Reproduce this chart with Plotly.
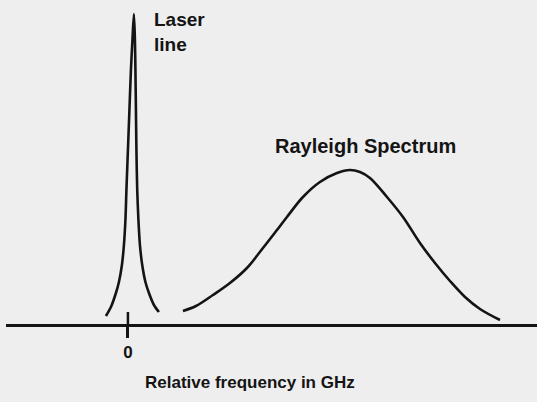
import plotly.graph_objects as go

# Laser line (relative frequency, arbitrary intensity units)
laser_freq = [-22, -17, -12, -9, -6, -4, -2.5, -1.5, 0, 1.5, 3, 4.5, 6,
              7, 7.5, 8, 8.5, 9.3, 10.5, 12, 14.3, 17.5, 21, 26, 31]
laser_int = [9, 18, 32, 43, 60, 80, 105, 135, 175, 215, 255, 285, 311,
             285, 255, 215, 175, 135, 105, 80, 60, 43, 32, 20, 13]

# Rayleigh spectrum
ray_freq = [55, 68, 85, 102, 119, 135, 149, 159, 175, 192, 209, 222,
            232, 242, 259, 275, 292, 307, 322, 337, 352, 372]
ray_int = [14, 19, 30, 42, 57, 77, 95, 108, 128, 143, 152, 155,
           153, 147, 128, 108, 82, 62, 44, 28, 16, 5]

tick_vals = [0]
tick_text = ["0"]

ink = "#141414"
bg = "#eeeeee"
font_family = "Liberation Sans, Arial, Helvetica, sans-serif"

fig = go.Figure()
fig.add_trace(go.Scatter(x=laser_freq, y=laser_int, mode="lines",
                         line=dict(color=ink, width=2.6, shape="spline", smoothing=0.8),
                         hoverinfo="skip", showlegend=False))
fig.add_trace(go.Scatter(x=ray_freq, y=ray_int, mode="lines",
                         line=dict(color=ink, width=2.6, shape="spline", smoothing=1.0),
                         hoverinfo="skip", showlegend=False))

# upper half of the zero tick (crosses the baseline)
fig.add_shape(type="line", xref="x", yref="y", x0=0, x1=0, y0=0, y1=13,
              line=dict(color=ink, width=2.5))

fig.add_annotation(x=24, y=318, xref="x", yref="y", text="<b>Laser<br>line</b>",
                   showarrow=False, xanchor="left", yanchor="top", align="left",
                   font=dict(family=font_family, size=19, color=ink))
fig.add_annotation(x=145, y=179, xref="x", yref="y", text="<b>Rayleigh Spectrum</b>",
                   showarrow=False, xanchor="left", yanchor="middle",
                   font=dict(family=font_family, size=20, color=ink))
fig.add_annotation(x=122, y=-57, xref="x", yref="y", text="<b>Relative frequency in GHz</b>",
                   showarrow=False, xanchor="center", yanchor="middle",
                   font=dict(family=font_family, size=17, color=ink))

fig.update_layout(
    width=537, height=402,
    margin=dict(l=0, r=0, t=0, b=0),
    paper_bgcolor=bg, plot_bgcolor=bg,
    xaxis=dict(domain=[0.011, 1], range=[-122, 409], anchor="free", position=0.1915,
               showgrid=False, zeroline=False, showline=True, linecolor=ink, linewidth=2.6,
               tickmode="array", tickvals=tick_vals, ticktext=tick_text,
               ticks="outside", ticklen=11, tickwidth=2.5, tickcolor=ink,
               tickfont=dict(family=font_family, size=17, color=ink, weight="bold"),
               fixedrange=True),
    yaxis=dict(domain=[0, 1], range=[-77, 325], visible=False, fixedrange=True),
)

fig.write_html("out.html", config={"displayModeBar": False},
               post_script="document.body.style.margin='0';document.body.style.overflow='hidden';")
